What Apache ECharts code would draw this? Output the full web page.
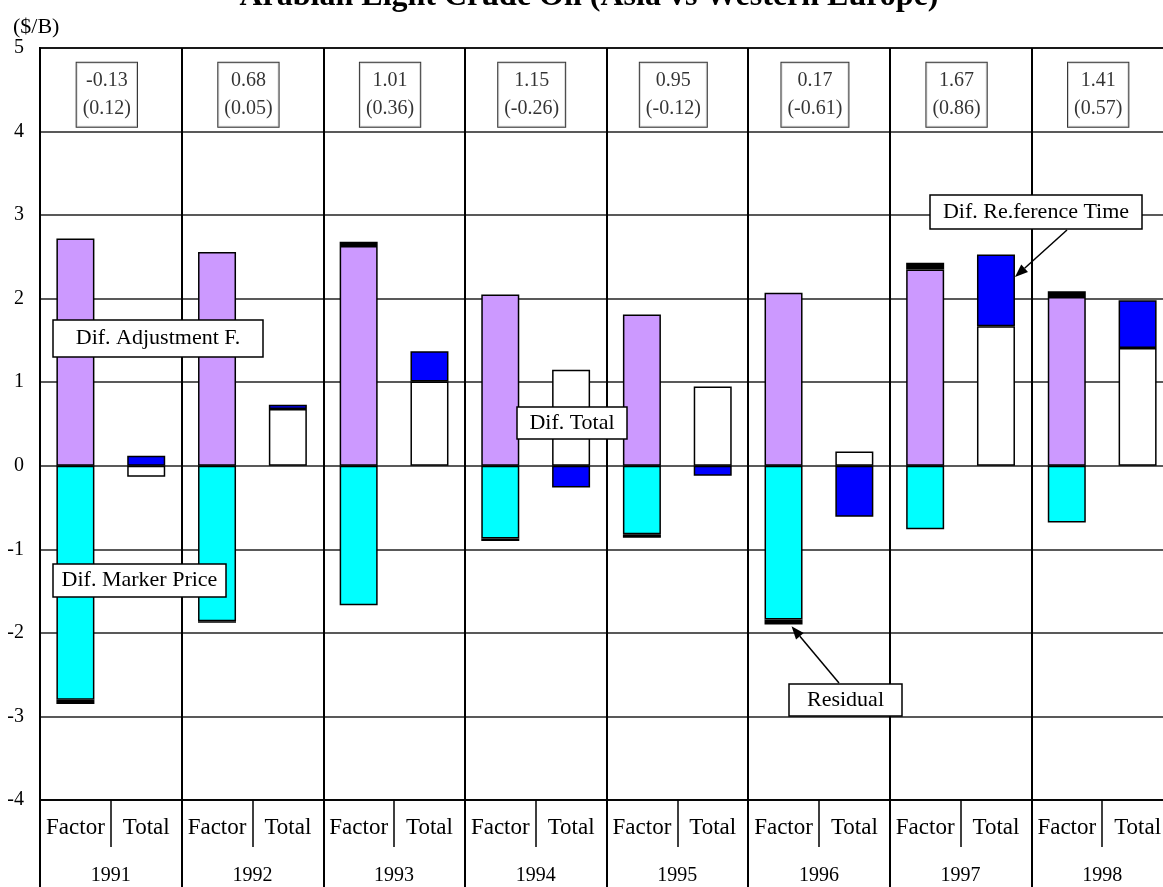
<!DOCTYPE html>
<html>
<head>
<meta charset="utf-8">
<script src="https://cdn.jsdelivr.net/npm/echarts@6/dist/echarts.min.js"></script>
<style>
  html, body { margin: 0; padding: 0; background: #fff; }
  #chart { width: 1163px; height: 887px; }
</style>
</head>
<body>
<div id="chart"></div>
<script>
// Arabian Light price gap, Asia vs Western Europe, decomposed by factor ($/B)
const years = ['1991', '1992', '1993', '1994', '1995', '1996', '1997', '1998'];
const slotNames = ['Factor', 'Total'];
const adjustmentDiff = [2.72, 2.56, 2.63, 2.05, 1.81, 2.07, 2.35, 2.02];
const markerPriceDiff = [-2.80, -1.86, -1.67, -0.87, -0.82, -1.84, -0.76, -0.68];
const residualDiff = [-0.05, -0.02, 0.05, -0.03, -0.04, -0.06, 0.08, 0.07];
const totalDiff = [-0.13, 0.68, 1.01, 1.15, 0.95, 0.17, 1.67, 1.41];
const refTimeDiff = [0.12, 0.05, 0.36, -0.26, -0.12, -0.61, 0.86, 0.57];
const yMin = -4, yMax = 5, yStep = 1;

const FONT = '"Liberation Serif", "Times New Roman", Times, serif';
const slots = years.flatMap(() => slotNames);
const onFactor = arr => arr.flatMap(v => [v, '-']);
const onTotal = arr => arr.flatMap(v => ['-', v]);

const chart = echarts.init(document.getElementById('chart'));
const barBorder = { borderColor: '#000', borderWidth: 1.5 };

chart.setOption({
  animation: false,
  backgroundColor: '#fff',
  grid: {
    left: 40, top: 48, width: 1133, height: 752,
    outerBoundsMode: 'none', containLabel: false,
    show: true, borderColor: '#000', borderWidth: 2
  },
  xAxis: [
    {
      type: 'category', data: slots, position: 'bottom',
      axisLine: { show: true, onZero: false, lineStyle: { color: '#000', width: 1.5 } },
      axisTick: { show: true, interval: 0, length: 47, lineStyle: { color: '#000', width: 1.5 } },
      axisLabel: { interval: 0, margin: 16, fontFamily: FONT, fontSize: 23, color: '#000' },
      splitLine: { show: false }
    },
    {
      type: 'category', data: years, position: 'bottom',
      axisLine: { show: false, onZero: false },
      axisTick: { show: true, interval: 0, length: 92, lineStyle: { color: '#000', width: 2 } },
      axisLabel: { interval: 0, margin: 66, fontFamily: FONT, fontSize: 20, color: '#000' },
      splitLine: { show: true, interval: 0, lineStyle: { color: '#000', width: 2 } }
    }
  ],
  yAxis: {
    type: 'value', min: yMin, max: yMax, interval: yStep,
    axisLine: { show: true, lineStyle: { color: '#000', width: 2 } },
    axisTick: { show: false },
    axisLabel: { margin: 16, fontFamily: FONT, fontSize: 20, color: '#000' },
    splitLine: { show: true, lineStyle: { color: '#222', width: 1.5 } }
  },
  series: [
    { name: 'Dif. Adjustment F.', type: 'bar', stack: 'factor', barWidth: 38, barGap: '-100%',
      data: onFactor(adjustmentDiff), itemStyle: Object.assign({ color: '#CC99FF' }, barBorder) },
    { name: 'Dif. Marker Price', type: 'bar', stack: 'factor', barWidth: 38, barGap: '-100%',
      data: onFactor(markerPriceDiff), itemStyle: Object.assign({ color: '#00FFFF' }, barBorder) },
    { name: 'Residual', type: 'bar', stack: 'factor', barWidth: 38, barGap: '-100%',
      data: onFactor(residualDiff), itemStyle: Object.assign({ color: '#000' }, barBorder) },
    { name: 'Dif. Total', type: 'bar', stack: 'total', barWidth: 38, barGap: '-100%',
      data: onTotal(totalDiff), itemStyle: Object.assign({ color: '#FFFFFF' }, barBorder) },
    { name: 'Dif. Reference Time', type: 'bar', stack: 'total', barWidth: 38, barGap: '-100%',
      data: onTotal(refTimeDiff), itemStyle: Object.assign({ color: '#0000FF' }, barBorder) },
    {
      name: 'yearly', type: 'scatter', xAxisIndex: 1, yAxisIndex: 0, symbolSize: 0, silent: true,
      data: years.map(y => [y, 4.44]),
      label: {
        show: true, position: 'inside', offset: [-4, 0],
        formatter: p => totalDiff[p.dataIndex].toFixed(2) + '\n(' + refTimeDiff[p.dataIndex].toFixed(2) + ')',
        fontFamily: FONT, fontSize: 20, lineHeight: 28, color: '#000', align: 'center',
        backgroundColor: '#fff', borderColor: '#000', borderWidth: 1, padding: [4, 6]
      }
    }
  ]
});

// Callout boxes and arrows, drawn above the bars
function box(text, x, y, w, h) {
  return [
    { type: 'rect', z: 100, zlevel: 1, shape: { x, y, width: w, height: h },
      style: { fill: '#fff', stroke: '#000', lineWidth: 1.5 } },
    { type: 'text', z: 101, zlevel: 1, x: x + w / 2, y: y + h / 2,
      style: { text, font: '22px ' + FONT, fill: '#000', textAlign: 'center', textVerticalAlign: 'middle' } }
  ];
}
function arrow(from, to) {
  const dx = to[0] - from[0], dy = to[1] - from[1];
  const len = Math.hypot(dx, dy), ux = dx / len, uy = dy / len;
  const hl = 13, hw = 5;
  const bx = to[0] - ux * hl, by = to[1] - uy * hl;
  return [
    { type: 'line', z: 100, zlevel: 1, shape: { x1: from[0], y1: from[1], x2: bx, y2: by },
      style: { stroke: '#000', lineWidth: 1.5 } },
    { type: 'polygon', z: 100, zlevel: 1,
      shape: { points: [to, [bx - uy * hw, by + ux * hw], [bx + uy * hw, by - ux * hw]] },
      style: { fill: '#000' } }
  ];
}
const half = 19;
const refTip = chart.convertToPixel({ gridIndex: 0 }, [13, 2.26]);
const resTip = chart.convertToPixel({ gridIndex: 0 }, [10, -1.92]);

chart.setOption({
  graphic: [
    { type: 'text', x: 589, y: -3, style: { text: 'Arabian Light Crude Oil (Asia vs Western Europe)', font: 'bold 32px ' + FONT, fill: '#000', textAlign: 'center', textVerticalAlign: 'middle' } },
    { type: 'text', x: 13, y: 27, style: { text: '($/B)', font: '22px ' + FONT, fill: '#000', textAlign: 'left', textVerticalAlign: 'middle' } },
    ...box('Dif. Adjustment F.', 53, 320, 210, 37),
    ...box('Dif. Total', 517, 407, 110, 32),
    ...box('Dif. Re.ference Time', 930, 195, 212, 34),
    ...box('Dif. Marker Price', 53, 564, 173, 33),
    ...box('Residual', 789, 684, 113, 32),
    ...arrow([1067, 230], [refTip[0] + half, refTip[1]]),
    ...arrow([839, 683], [resTip[0] + 8, resTip[1]])
  ]
});
</script>
</body>
</html>
